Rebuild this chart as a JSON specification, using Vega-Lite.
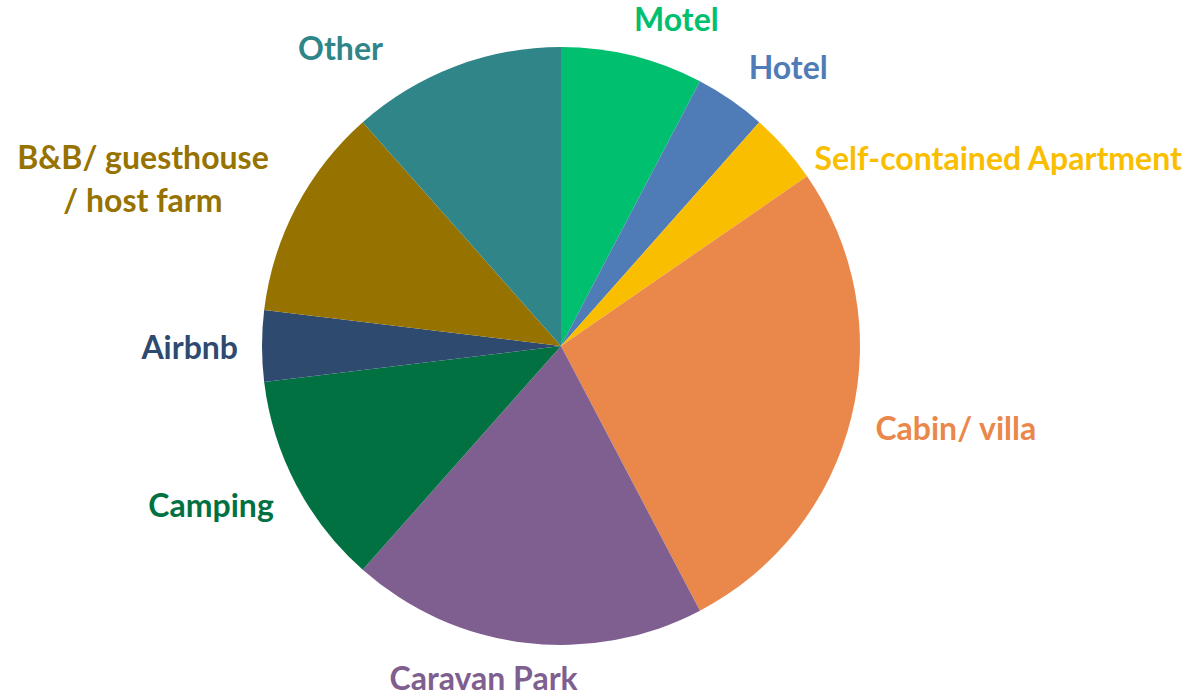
{
  "$schema": "https://vega.github.io/schema/vega-lite/v6.json",
  "width": 1122,
  "height": 692,
  "padding": {"left": 0, "top": 0, "right": 80, "bottom": 4},
  "autosize": {"type": "none"},
  "background": "white",
  "view": {"stroke": null},
  "config": {"text": {"font": "Lato", "fontWeight": "bold", "fontSize": 32, "baseline": "middle"}},
  "data": {"values": [
    {"k": 1, "type": "Motel", "label": "Motel", "count": 2},
    {"k": 2, "type": "Hotel", "label": "Hotel", "count": 1},
    {"k": 3, "type": "Self-contained Apartment", "label": "Self-contained Apartment", "count": 1},
    {"k": 4, "type": "Cabin/ villa", "label": "Cabin/ villa", "count": 7},
    {"k": 5, "type": "Caravan Park", "label": "Caravan Park", "count": 5},
    {"k": 6, "type": "Camping", "label": "Camping", "count": 3},
    {"k": 7, "type": "Airbnb", "label": "Airbnb", "count": 1},
    {"k": 8, "type": "B&B/ guesthouse / host farm", "label": "B&B/ guesthouse\n/ host farm", "count": 3},
    {"k": 9, "type": "Other", "label": "Other", "count": 3}
  ]},
  "encoding": {
    "theta": {"field": "count", "type": "quantitative", "stack": true},
    "order": {"field": "k", "type": "quantitative"},
    "color": {
      "field": "type", "type": "nominal", "legend": null,
      "scale": {
        "domain": ["Motel", "Hotel", "Self-contained Apartment", "Cabin/ villa", "Caravan Park", "Camping", "Airbnb", "B&B/ guesthouse / host farm", "Other"],
        "range": ["#00BF6F", "#4F7CB7", "#F9BE00", "#EA884C", "#7F5F8F", "#017142", "#2F4A6F", "#967300", "#2F8588"]
      }
    }
  },
  "layer": [
    {"mark": {"type": "arc", "outerRadius": 299, "stroke": null}},
    {"mark": {"type": "text", "radius": 340, "align": "center", "dx": 34, "dy": 5},
     "encoding": {"text": {"condition": {"test": "datum.type == 'Motel'", "field": "label"}, "value": ""}}},
    {"mark": {"type": "text", "radius": 340, "align": "center", "dx": 34, "dy": 3},
     "encoding": {"text": {"condition": {"test": "datum.type == 'Hotel'", "field": "label"}, "value": ""}}},
    {"mark": {"type": "text", "radius": 340, "align": "left", "dx": -1, "dy": 39},
     "encoding": {"text": {"condition": {"test": "datum.type == 'Self-contained Apartment'", "field": "label"}, "value": ""}}},
    {"mark": {"type": "text", "radius": 330, "align": "left", "dx": -6, "dy": 5},
     "encoding": {"text": {"condition": {"test": "datum.type == 'Cabin/ villa'", "field": "label"}, "value": ""}}},
    {"mark": {"type": "text", "radius": 335, "align": "center", "dx": -37, "dy": 1},
     "encoding": {"text": {"condition": {"test": "datum.type == 'Caravan Park'", "field": "label"}, "value": ""}}},
    {"mark": {"type": "text", "radius": 330, "align": "right", "dx": 5, "dy": 8},
     "encoding": {"text": {"condition": {"test": "datum.type == 'Camping'", "field": "label"}, "value": ""}}},
    {"mark": {"type": "text", "radius": 325, "align": "right", "dx": 2, "dy": 3},
     "encoding": {"text": {"condition": {"test": "datum.type == 'Airbnb'", "field": "label"}, "value": ""}}},
    {"mark": {"type": "text", "radius": 340, "align": "center", "lineBreak": "\n", "lineHeight": 43, "dx": -117, "dy": -29},
     "encoding": {"text": {"condition": {"test": "datum.k == 8", "field": "label"}, "value": ""}}},
    {"mark": {"type": "text", "radius": 320, "align": "center", "dx": -107, "dy": 3},
     "encoding": {"text": {"condition": {"test": "datum.type == 'Other'", "field": "label"}, "value": ""}}}
  ]
}
